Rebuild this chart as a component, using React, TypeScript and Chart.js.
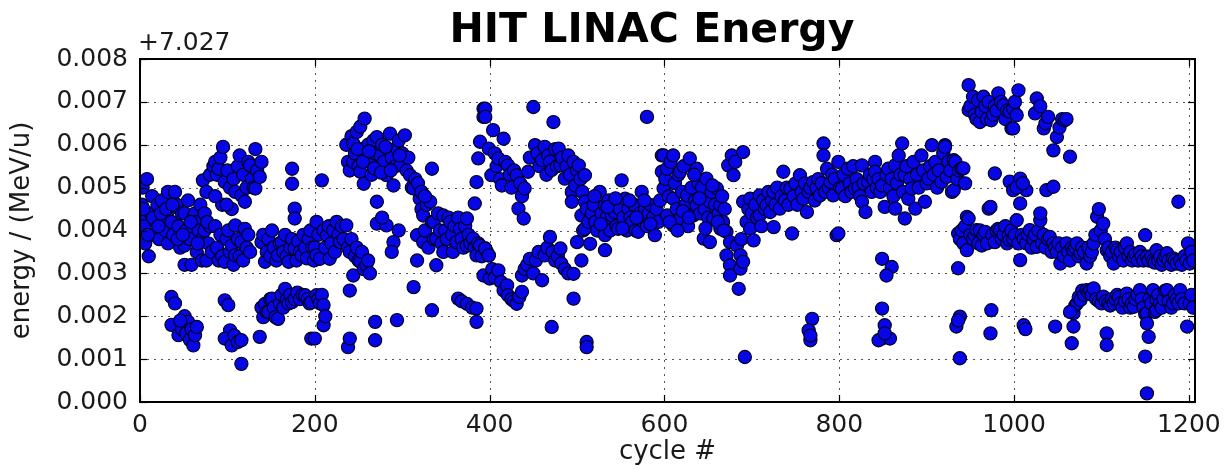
import { useEffect, useRef } from 'react';
import { Chart, registerables } from 'chart.js';

Chart.register(...registerables);

const TITLE = 'HIT LINAC Energy';
const OFFSET_LABEL = '+7.027';
const X_LABEL = 'cycle #';
const Y_LABEL = 'energy / (MeV/u)';
const X_TICKS = [0, 200, 400, 600, 800, 1000, 1200];
const Y_TICKS = [0, 0.001, 0.002, 0.003, 0.004, 0.005, 0.006, 0.007, 0.008];
const X_MAX = 1207;

// [cycle, energy above 7.027 MeV/u in units of 0.001 MeV/u]
const cycles0to140: [number, number][] = [
  [0,4.3],[2,4.6],[3,5.0],[5,4.1],[6,3.7],[8,5.2],[10,3.4],[12,4.4],[14,4.8],[16,3.9],[18,4.2],[20,4.6],[22,3.8],[25,4.7],[27,4.3],[29,4.0],[32,4.9],[32,3.7],[34,4.5],[36,4.2],[38,3.9],[40,4.9],[42,4.6],[44,4.1],[46,3.6],[48,4.4],[51,4.4],[51,3.65],[51,3.2],[53,4.0],[55,4.7],[57,3.8],[59,3.2],[61,4.3],[63,4.4],[63,4.2],[65,3.5],[67,4.0],[69,4.6],[71,3.8],[71,3.3],[74,4.4],[74,4.0],[76,3.3],[78,3.7],[80,4.1],[82,3.5],
  [4,4.5],[9,3.9],[15,4.3],[21,4.1],[24,4.4],[30,4.5],[37,4.6],[43,3.8],[49,3.9],[58,4.2],[66,3.7],[77,4.2],
  [36,2.45],[40,2.3],[36,1.8],[44,1.56],[48,1.7],[51,2.0],[53,1.6],[55,1.87],[57,1.45],[59,1.7],[61,1.32],[63,1.56],[65,1.75],[46,1.9],
  [72,5.17],[76,4.9],[80,5.3],[84,5.5],[86,5.6],[88,5.3],[90,5.44],[92,5.7],[95,5.95],[97,5.13],[94,4.6],[86,4.8],[100,5.4],[103,5.0],[105,4.5],[107,5.2],[109,4.9],[112,5.5],[114,5.75],[116,4.82],[118,5.3],[120,4.67],[122,5.0],[124,5.6],[126,5.52],[128,5.2],[130,5.0],[132,5.9],[132,4.98],[134,5.4],[137,5.25],[139,5.6],[99,4.6],
  [86,4.1],[88,3.6],[90,3.3],[92,3.9],[94,3.4],[97,3.27],[99,3.8],[101,4.0],[103,3.5],[105,3.65],[107,3.2],[109,3.42],[109,4.12],[112,3.8],[114,3.4],[116,3.73],[118,3.3],[120,4.04],[122,3.6],[124,3.9],[126,3.5],
  [97,2.37],[101,2.26],[103,1.67],[97,1.48],[105,1.32],[108,1.55],[112,1.4],[116,1.44],[116,0.89],[137,1.52],
];

const cycles140to320: [number, number][] = [
  [139,3.73],[141,3.9],[143,3.27],[145,3.5],[147,3.8],[149,3.4],[151,4.0],[153,3.6],[156,3.3],[158,3.42],[160,3.7],[162,3.73],[164,3.5],[166,3.9],[168,3.4],[170,3.27],[172,3.6],[174,3.8],[177,3.58],[179,3.3],[181,3.75],[183,3.5],[185,3.42],[187,3.9],[189,3.6],[191,3.35],[193,3.81],[195,4.0],[197,3.6],[199,3.3],
  [174,5.44],[174,5.09],[177,4.51],[177,4.28],
  [139,2.2],[141,1.98],[143,2.29],[145,2.1],[147,2.1],[149,2.4],[151,2.41],[153,2.2],[155,1.98],[158,1.94],[160,2.3],[162,2.5],[164,2.2],[166,2.64],[168,2.4],[170,2.3],[172,2.5],[174,2.33],[177,2.4],[180,2.55],[183,2.4],[186,2.5],[189,2.49],[192,2.4],[194,2.3],[196,2.33],[196,1.48],
  [200,3.6],[202,4.2],[202,3.42],[204,3.9],[206,3.34],[208,5.17],[210,4.0],[212,3.6],[214,3.89],[216,4.1],[217,3.34],[219,3.7],[221,4.0],[223,3.5],[225,4.2],[227,3.9],[229,3.73],[231,4.1],[233,3.8],[236,4.12],[238,3.6],[240,3.5],[242,3.8],[244,2.95],[246,3.4],[248,3.6],[250,3.3],[252,3.27],[254,3.5],[256,3.1],[259,3.19],[261,3.3],[263,3.0],[240,2.6],
  [200,1.48],[202,2.49],[204,2.4],[206,2.3],[208,2.5],[210,2.26],[210,1.79],[212,2.0],[238,1.28],[240,1.48],[269,1.87],[269,1.44],[294,1.91],[313,2.68],[334,2.14],
  [236,6.0],[238,5.6],[240,5.4],[242,6.2],[244,6.03],[244,5.6],[246,5.8],[248,6.3],[250,5.5],[252,6.42],[252,5.37],[254,5.9],[256,5.09],[257,6.61],[259,5.7],[261,6.0],[263,5.6],[265,5.3],[267,6.1],[269,5.8],[271,6.18],[273,5.5],[275,5.75],[277,6.0],[279,5.6],[282,5.29],[284,5.9],[286,6.26],[288,5.7],[290,5.05],[292,5.5],[294,5.91],[296,6.1],[298,5.52],[300,5.8],[303,6.22],[305,5.4],[307,5.7],[309,5.29],[311,5.0],[313,4.98],[315,5.2],[334,5.44],
  [249,5.9],[255,5.6],[262,5.85],[268,5.45],[276,5.35],[281,5.95],[287,5.4],[297,5.75],
  [271,4.67],[271,4.16],[282,4.12],[296,4.0],[290,3.73],[288,3.5],[277,4.3],
];

const cycles315to400: [number, number][] = [
  [317,3.89],[317,3.3],[320,4.74],[322,4.5],[324,4.35],[324,3.73],[326,4.0],[328,4.6],[330,3.6],[332,4.67],[334,4.2],[336,4.2],[336,3.8],[339,3.81],[339,3.19],[341,4.4],[343,4.0],[345,3.7],[347,4.35],[347,3.5],[349,4.0],[351,3.8],[353,4.3],[355,4.2],[357,3.9],[358,3.5],[360,4.1],[362,3.73],[364,4.3],[366,4.04],[368,3.8],[370,3.6],[372,4.1],[374,4.28],[374,3.65],[376,3.9],[378,3.7],[381,3.81],[383,3.6],[385,3.42],[387,3.7],[389,3.65],[391,3.4],[393,2.95],[395,3.58],[397,3.5],[399,3.42],[400,2.88],
  [364,2.41],[368,2.35],[374,2.29],[380,2.2],[385,2.18],[385,1.87],
  [318,5.1],[322,4.9],[326,4.8],
  [393,6.84],[393,6.65],[389,6.07],[387,5.68],[385,5.13],[383,4.63],
];

const cycles395to520: [number, number][] = [
  [395,6.84],[395,6.65],[399,5.91],[402,5.29],[404,6.34],[406,5.8],[408,5.5],[410,5.68],[412,5.2],[414,5.05],[416,6.14],[418,5.6],[421,5.52],[423,5.3],[425,5.0],[428,5.4],[431,5.29],[433,4.51],[435,5.1],[437,4.8],[439,4.28],[440,4.98],[444,5.37],[446,5.7],[450,6.88],[452,5.99],[455,5.8],[457,5.5],[460,5.64],[463,5.95],[465,5.3],[467,5.75],[469,5.6],[471,5.41],[473,6.53],[475,5.9],[477,5.5],[479,5.91],[481,5.52],[483,5.7],[486,5.21],[488,5.5],[490,5.75],[492,5.3],[494,4.9],[494,4.67],[496,5.6],[498,5.05],[500,5.4],[502,5.52],[504,5.2],[506,4.9],[509,5.29],[509,4.67],
  [395,3.58],[399,3.42],[403,3.1],[406,2.9],[410,3.07],[413,2.8],[416,2.6],[420,2.72],[421,2.49],[425,2.4],[428,2.35],[431,2.29],[434,2.45],[437,2.57],[437,2.95],[440,3.1],[443,3.2],[446,3.34],[450,3.0],[453,3.3],[456,3.5],[460,2.84],[463,3.42],[466,3.6],[469,3.85],[472,3.5],[475,3.3],[478,3.4],[481,3.58],[482,3.23],[486,3.1],[490,3.0],[496,2.99],[496,2.41],[500,3.73],[505,3.3],[471,1.75],[511,1.4],[511,1.28],
];

const cycles505to600: [number, number][] = [
  [505,4.35],[507,4.0],[509,4.04],[511,4.5],[513,4.2],[515,3.69],[517,4.4],[519,4.6],[521,4.2],[523,4.0],[526,4.9],[528,4.4],[530,4.1],[532,4.59],[532,3.89],[532,3.54],[534,4.3],[536,4.7],[538,4.0],[540,4.35],[542,4.6],[543,4.43],[545,4.1],[547,4.04],[549,4.5],[551,5.17],[553,4.3],[555,4.74],[557,4.0],[559,4.5],[561,4.3],[563,4.2],[565,4.6],[567,4.0],[570,3.97],[572,4.4],[574,4.9],[576,4.2],[578,4.51],[580,4.1],[582,4.4],[585,4.59],[587,4.3],[589,3.89],[591,4.5],[593,4.2],[595,4.7],[597,5.75],[597,5.37],[580,6.65],
  [520,4.8],[527,4.15],[535,4.55],[544,4.75],[552,4.05],[560,4.7],[568,4.3],[577,4.7],[584,4.15],
];

const cycles595to800: [number, number][] = [
  [599,5.75],[599,4.98],[601,5.2],[603,5.44],[603,4.35],[605,4.8],[607,5.6],[610,5.75],[610,4.74],[610,4.12],[612,5.1],[614,4.5],[616,5.3],[618,5.37],[618,4.28],[620,4.9],[622,5.5],[624,4.6],[626,4.82],[627,4.1],[629,5.68],[631,5.0],[633,4.35],[635,4.7],[637,5.44],[637,4.59],[639,5.1],[641,4.4],[643,5.0],[645,3.81],[646,4.5],[648,5.21],[650,4.3],[652,4.67],[652,3.73],[654,4.9],[656,4.28],[658,4.6],[660,4.98],[662,4.4],[664,4.59],[664,4.04],[666,4.8],[667,4.2],[669,4.5],[671,3.97],[671,3.42],[673,5.52],[675,3.73],[675,3.19],[675,2.95],[677,5.75],[679,5.29],[681,5.6],[683,3.65],[685,2.64],[687,3.42],[687,3.11],[688,3.8],[690,5.83],[690,3.27],[692,1.05],[690,4.67],
  [606,4.2],[615,4.0],[621,4.45],[628,4.3],[634,5.3],[640,4.75],[647,4.05],[655,5.05],[661,4.2],[668,4.0],
  [694,4.2],[696,4.5],[698,4.74],[698,4.04],[700,4.4],[702,3.77],[704,4.6],[706,4.3],[709,4.82],[709,4.35],[711,4.1],[713,4.7],[715,4.5],[717,4.59],[719,4.9],[721,4.43],[723,4.7],[725,4.9],[725,4.08],[727,4.6],[729,5.0],[732,4.51],[734,4.8],[736,5.37],[738,4.7],[740,5.0],[742,4.6],[744,4.98],[746,3.93],[748,4.8],[750,5.1],[752,4.6],[755,5.29],[757,4.9],[759,4.74],[761,5.1],[763,4.43],[765,4.9],[767,5.0],[770,5.13],[772,4.7],[774,5.0],[776,5.2],[778,4.82],[780,5.1],[782,6.03],[782,5.75],[784,4.9],[786,5.44],[788,5.0],[790,5.13],[792,5.3],[793,4.82],[795,5.2],[797,3.89],
  [769,1.94],[765,1.67],[767,1.44],[767,1.55],
];

const cycles795to950: [number, number][] = [
  [799,5.6],[799,3.93],[801,5.0],[803,4.98],[805,5.3],[807,4.8],[810,5.44],[812,5.1],[814,4.9],[816,5.5],[818,4.98],[820,5.2],[822,5.0],[824,4.8],[826,5.52],[826,4.67],[828,5.1],[830,4.43],[833,5.13],[835,5.3],[837,4.9],[839,5.2],[841,5.6],[841,5.37],[843,5.0],[845,5.2],[847,4.9],[849,5.05],[852,4.55],[854,5.3],[856,5.44],[858,5.0],[860,5.2],[862,4.8],[864,5.52],[864,4.51],[866,5.1],[868,5.75],[870,5.3],[872,6.03],[873,4.9],[875,5.29],[875,4.28],[877,5.5],[879,4.74],[881,5.2],[883,4.98],[885,5.6],[887,4.51],[889,5.3],[891,5.0],[894,5.75],[896,5.4],[898,4.67],[900,5.1],[902,5.21],[904,5.5],[906,5.99],[908,5.3],[910,5.6],[912,5.0],[914,5.4],[917,5.13],[919,5.8],[921,5.99],[921,5.95],[923,5.25],[925,5.6],[927,5.4],[929,4.9],[931,5.64],[931,4.94],[933,5.6],[935,5.2],[937,5.4],[940,5.44],[942,5.45],[944,5.1],
  [849,3.34],[860,3.15],[854,2.95],[849,2.18],[852,1.79],[849,1.48],[858,1.48],[845,1.44],[852,1.6],
];

const cycles930to1070: [number, number][] = [
  [936,3.93],[936,3.12],[938,3.8],[940,4.0],[942,3.7],[944,4.1],[946,4.32],[946,3.54],[948,4.28],[950,3.9],[953,3.8],[955,3.89],[957,4.01],[959,3.7],[961,4.0],[963,3.65],[965,3.9],[967,3.97],[969,3.7],[971,4.51],[973,4.55],[975,3.9],[978,3.73],[980,4.0],[982,4.04],[984,4.01],[986,3.8],[988,3.9],[990,4.1],[992,3.7],[994,3.89],[995,3.78],[997,4.0],[999,3.8],[1001,3.9],[1003,4.24],[1005,3.7],[1007,3.31],[1009,3.9],[1011,3.8],[1014,3.7],[1016,3.9],[1018,4.01],[1020,3.6],[1022,3.8],[1024,3.9],[1026,3.62],[1028,4.0],[1030,4.24],[1030,4.4],[1032,3.7],[1034,3.9],[1036,3.6],[1039,3.8],[1041,3.85],[1043,3.5],[1045,3.7],[1047,3.6],[1049,3.5],[1051,3.7],[1053,3.23],[1055,3.6],[1057,3.4],[1060,3.7],[1062,3.5],[1064,3.3],[1066,3.6],[1068,3.54],
  [948,7.39],[948,6.81],[950,6.9],[953,7.12],[955,6.7],[957,6.6],[959,7.04],[961,6.53],[963,6.77],[965,7.12],[967,6.9],[969,6.6],[971,7.0],[974,6.57],[976,6.7],[978,6.9],[980,6.8],[982,7.2],[985,7.0],[988,6.92],[990,6.6],[992,6.8],[995,6.77],[997,6.38],[999,6.84],[1001,7.0],[1003,6.69],[1005,7.27],[1024,6.73],[1026,7.08],[1030,6.9],[1034,6.38],[1036,6.5],[1039,6.65],[1045,5.87],[1049,6.18],[1052,6.4],[1055,6.6],[1058,6.57],[1060,6.6],[1064,5.72],[999,6.38],
  [978,5.33],[995,5.14],[1007,5.21],[999,4.94],[1014,4.94],[1007,4.63],[1037,4.94],[1045,5.02],[1003,5.0],[1010,5.1],
  [934,1.76],[938,1.99],[938,1.02],[974,2.14],[973,1.6],[1011,1.79],[1047,1.76],[1068,1.76],[1066,1.37],[936,1.9],[1013,1.7],
];

const cycles1068to1207: [number, number][] = [
  [1070,3.6],[1072,3.7],[1074,3.4],[1076,3.47],[1078,3.6],[1080,3.5],[1083,3.23],[1085,3.6],[1087,3.4],[1089,3.5],[1091,3.7],[1093,3.9],[1095,4.32],[1097,4.5],[1099,4.0],[1102,4.16],[1104,3.8],[1106,3.54],[1108,3.6],[1110,3.4],[1112,3.5],[1114,3.23],[1116,3.6],[1118,3.54],[1120,3.4],[1122,3.5],[1125,3.3],[1127,3.6],[1129,3.7],[1131,3.4],[1133,3.5],[1135,3.3],[1137,3.39],[1139,3.45],[1142,3.3],[1144,3.5],[1146,3.4],[1148,3.3],[1150,3.89],[1152,3.39],[1154,3.3],[1157,3.4],[1159,3.3],[1161,3.25],[1163,3.54],[1165,3.3],[1167,3.4],[1169,3.2],[1171,3.3],[1173,3.4],[1175,3.47],[1177,3.3],[1180,3.2],[1182,3.35],[1184,3.3],[1186,3.23],[1188,4.67],[1190,3.3],[1192,3.2],[1195,3.4],[1197,3.3],[1199,3.7],[1201,3.23],[1203,3.5],[1205,3.3],
  [1068,2.07],[1070,2.25],[1072,2.3],[1074,2.45],[1076,2.38],[1078,2.6],[1080,2.5],[1083,2.61],[1085,2.55],[1087,2.6],[1089,2.5],[1091,2.65],[1094,2.4],[1097,2.35],[1100,2.3],[1102,2.46],[1105,2.35],[1108,2.3],[1110,2.25],[1112,2.4],[1114,2.3],[1116,2.4],[1118,2.5],[1120,2.45],[1122,2.3],[1124,2.2],[1127,2.35],[1129,2.53],[1131,2.4],[1133,2.2],[1135,2.3],[1137,2.22],[1139,2.4],[1141,2.5],[1144,2.61],[1146,2.4],[1148,2.2],[1150,2.05],[1152,2.07],[1152,1.83],[1154,1.52],[1150,1.06],[1152,0.2],[1155,2.4],[1157,2.3],[1159,2.61],[1161,2.1],[1163,2.14],[1163,2.38],[1165,2.5],[1167,2.3],[1169,2.2],[1171,2.4],[1173,2.6],[1175,2.61],[1177,2.35],[1180,2.2],[1182,2.3],[1184,2.5],[1186,2.4],[1188,2.3],[1190,2.61],[1192,2.4],[1195,2.3],[1198,1.76],[1201,2.3],[1203,2.5],[1205,2.2],
  [1106,1.6],[1106,1.33],[1064,2.1],
];

const ALL_RUNS = [
  cycles0to140, cycles140to320, cycles315to400, cycles395to520,
  cycles505to600, cycles595to800, cycles795to950, cycles930to1070, cycles1068to1207,
];

const FONT = '"DejaVu Sans", "Liberation Sans", sans-serif';
const TEXT_COLOR = '#1a1a1a';

const framePlugin = {
  id: 'framePlugin',
  beforeDatasetsDraw(chart: any) {
    const { ctx, chartArea: a, scales } = chart;
    ctx.save();
    ctx.strokeStyle = '#555';
    ctx.lineWidth = 1;
    ctx.setLineDash([2, 5]);
    X_TICKS.forEach((t) => {
      const x = Math.round(scales.x.getPixelForValue(t)) + 0.5;
      ctx.beginPath(); ctx.moveTo(x, a.top); ctx.lineTo(x, a.bottom); ctx.stroke();
    });
    Y_TICKS.forEach((t) => {
      const y = Math.round(scales.y.getPixelForValue(t)) + 0.5;
      ctx.beginPath(); ctx.moveTo(a.left, y); ctx.lineTo(a.right, y); ctx.stroke();
    });
    ctx.restore();
  },
  afterDraw(chart: any) {
    const { ctx, chartArea: a, scales } = chart;
    ctx.save();
    ctx.strokeStyle = '#000';
    ctx.setLineDash([]);
    ctx.lineWidth = 1.2;
    const tl = 7;
    X_TICKS.forEach((t) => {
      const x = Math.round(scales.x.getPixelForValue(t)) + 0.5;
      ctx.beginPath(); ctx.moveTo(x, a.bottom); ctx.lineTo(x, a.bottom - tl); ctx.stroke();
      ctx.beginPath(); ctx.moveTo(x, a.top); ctx.lineTo(x, a.top + tl); ctx.stroke();
    });
    Y_TICKS.forEach((t) => {
      const y = Math.round(scales.y.getPixelForValue(t)) + 0.5;
      ctx.beginPath(); ctx.moveTo(a.left, y); ctx.lineTo(a.left + tl, y); ctx.stroke();
      ctx.beginPath(); ctx.moveTo(a.right, y); ctx.lineTo(a.right - tl, y); ctx.stroke();
    });
    ctx.lineWidth = 2;
    ctx.strokeRect(a.left, a.top, a.right - a.left, a.bottom - a.top);

    ctx.fillStyle = '#000';
    ctx.font = `bold 41px ${FONT}`;
    ctx.textAlign = 'center';
    ctx.textBaseline = 'alphabetic';
    ctx.fillText(TITLE, 652, 42);

    ctx.fillStyle = TEXT_COLOR;
    ctx.font = `25px ${FONT}`;
    ctx.textAlign = 'left';
    ctx.fillText(OFFSET_LABEL, 138, 50);

    ctx.font = `26px ${FONT}`;
    ctx.textAlign = 'center';
    ctx.textBaseline = 'middle';
    ctx.fillText(X_LABEL, (a.left + a.right) / 2, 452);
    ctx.translate(22, (a.top + a.bottom) / 2);
    ctx.rotate(-Math.PI / 2);
    ctx.fillText(Y_LABEL, 0, 0);
    ctx.restore();
  },
};

export default function App() {
  const ref = useRef<HTMLCanvasElement | null>(null);

  useEffect(() => {
    const canvas = ref.current;
    if (!canvas) return;
    const points = ALL_RUNS.flat().map(([c, v]) => ({ x: c, y: v / 1000 }));
    const chart = new Chart(canvas, {
      type: 'scatter',
      data: {
        datasets: [
          {
            data: points,
            backgroundColor: '#0606e6',
            borderColor: '#00001a',
            borderWidth: 1.1,
            pointRadius: 6.6,
            pointHoverRadius: 6.6,
            clip: 0,
          } as any,
        ],
      },
      options: {
        animation: false,
        responsive: false,
        events: [],
        layout: { padding: { top: 59, right: 29, left: 0, bottom: 0 } },
        plugins: { legend: { display: false }, tooltip: { enabled: false }, title: { display: false } },
        scales: {
          x: {
            type: 'linear',
            min: 0,
            max: X_MAX,
            grid: { display: false, drawTicks: false },
            border: { display: false },
            afterBuildTicks: (s: any) => { s.ticks = X_TICKS.map((value) => ({ value })); },
            afterFit: (s: any) => { s.height = 67; s.paddingLeft = 0; s.paddingRight = 0; },
            ticks: {
              padding: 8,
              maxRotation: 0,
              autoSkip: false,
              color: TEXT_COLOR,
              font: { family: FONT, size: 25 },
              callback: (v: any) => String(v),
            },
          },
          y: {
            type: 'linear',
            min: 0,
            max: 0.008,
            grid: { display: false, drawTicks: false },
            border: { display: false },
            afterBuildTicks: (s: any) => { s.ticks = Y_TICKS.map((value) => ({ value })); },
            afterFit: (s: any) => { s.width = 140; s.paddingTop = 0; s.paddingBottom = 0; },
            ticks: {
              padding: 12,
              autoSkip: false,
              color: TEXT_COLOR,
              font: { family: FONT, size: 25 },
              callback: (v: any) => Number(v).toFixed(3),
            },
          },
        },
      },
      plugins: [framePlugin],
    });
    return () => chart.destroy();
  }, []);

  return (
    <div style={{ position: 'fixed', left: 0, top: 0, width: 1224, height: 469, background: '#fff' }}>
      <canvas ref={ref} width={1224} height={469} style={{ display: 'block', width: 1224, height: 469 }} />
    </div>
  );
}
